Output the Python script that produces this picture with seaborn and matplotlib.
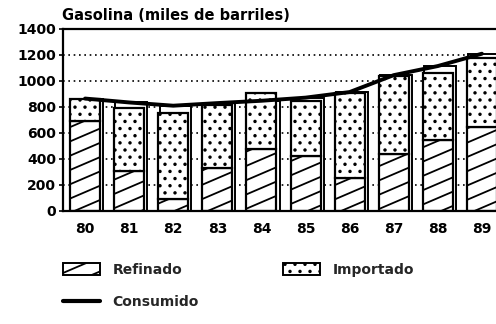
import numpy as np
import matplotlib
matplotlib.use("Agg")
import matplotlib.pyplot as plt
import matplotlib.hatch as mhatch
from matplotlib.path import Path
import matplotlib.patches as mpatches
from matplotlib.lines import Line2D
import seaborn as sns

# Gasoline supply, thousands of barrels
years = ["80", "81", "82", "83", "84", "85", "86", "87", "88", "89"]
refinado = [690, 310, 95, 330, 480, 420, 255, 435, 545, 650]
importado = [170, 485, 660, 485, 425, 425, 650, 600, 515, 530]
consumido = [865, 835, 810, 830, 848, 872, 915, 1045, 1115, 1210]
y_ticks = [0, 200, 400, 600, 800, 1000, 1200, 1400]


# Shallow diagonal hatch used for '/' (slope 3/7, 7 lines per tile)
class SlantHatch(mhatch.HatchPatternBase):
    rise, per_tile = 3, 7

    def __init__(self, hatch, density):
        n = hatch.count('/') + hatch.count('x') + hatch.count('X')
        if n:
            step = 1.0 / (self.per_tile * n)
            k = np.arange(-3 * self.per_tile * n, 3 * self.per_tile * n)
            self.offsets = k * step
        else:
            self.offsets = np.empty(0)
        self.slope = self.rise / self.per_tile
        self.num_vertices = 2 * len(self.offsets)

    def set_vertices_and_codes(self, vertices, codes):
        x0, x1 = -1.0, 2.0
        vertices[0::2, 0] = x0
        vertices[0::2, 1] = self.offsets + self.slope * x0
        vertices[1::2, 0] = x1
        vertices[1::2, 1] = self.offsets + self.slope * x1
        codes[0::2] = Path.MOVETO
        codes[1::2] = Path.LINETO


# Staggered dot stipple used for '.'
class DotHatch(mhatch.HatchPatternBase):
    def __init__(self, hatch, density):
        n = hatch.count('.')
        centers = []
        if n:
            ncol, nrow = 10 * n, 14 * n
            for r in range(-1, nrow + 2):
                shift = 0.5 / ncol if r % 2 else 0.0
                for c in range(-1, ncol + 2):
                    centers.append((c / ncol + shift, r / nrow))
        self.centers = np.array(centers, dtype=float).reshape(-1, 2)
        circ = Path.unit_circle()
        self.shape_vertices = circ.vertices * 0.008
        self.shape_codes = circ.codes
        self.num_vertices = len(self.centers) * len(self.shape_vertices)

    def set_vertices_and_codes(self, vertices, codes):
        nv = len(self.shape_vertices)
        for i, (cx, cy) in enumerate(self.centers):
            vertices[i * nv:(i + 1) * nv] = self.shape_vertices + (cx, cy)
            codes[i * nv:(i + 1) * nv] = self.shape_codes


ht = mhatch._hatch_types
ht[ht.index(mhatch.NorthEastHatch)] = SlantHatch
ht[ht.index(mhatch.SmallFilledCircles)] = DotHatch

sns.set_theme(style="white")
plt.rcParams["font.family"] = ["DejaVu Sans"]
plt.rcParams["font.weight"] = "bold"
plt.rcParams["hatch.linewidth"] = 1.3
plt.rcParams["hatch.color"] = "black"

fig = plt.figure(figsize=(4.96, 3.24), dpi=100)
ax = fig.add_axes([63 / 496, (324 - 211) / 324, 1 - 63 / 496, (211 - 29) / 324])

pos = np.arange(len(years))
bar_w = 0.68

# dotted horizontal grid
for v in y_ticks[1:-1]:
    ax.axhline(v, color="black", lw=1.2, ls=(0, (1, 2.2)), zorder=0.5)

# back panels reaching the consumption level
ax.bar(pos + 0.05, consumido, width=bar_w + 0.04, color="white",
       edgecolor="black", linewidth=1.4, zorder=1)

sns.barplot(x=years, y=refinado, color="white", saturation=1, width=bar_w,
            edgecolor="black", linewidth=1.6, hatch="/", errorbar=None,
            ax=ax, zorder=2)
sns.barplot(x=years, y=importado, bottom=refinado, color="white",
            saturation=1, width=bar_w, edgecolor="black", linewidth=1.6,
            hatch=".", errorbar=None, ax=ax, zorder=2)
sns.lineplot(x=pos, y=consumido, color="black", lw=2.8, ax=ax, zorder=3)

ax.set_xlim(-0.5, 9.32)
ax.set_ylim(0, 1400)
ax.set_yticks(y_ticks)
ax.set_xticks(pos)
ax.set_xticklabels(years)
ax.set_xlabel("")
ax.set_ylabel("")
ax.tick_params(axis="y", direction="out", length=3, width=1.2, pad=2,
               labelsize=10, colors="black", left=True)
ax.tick_params(axis="x", direction="in", length=3, width=1.2, pad=8,
               labelsize=10, colors="black", bottom=True)
for side in ["left", "top", "bottom"]:
    ax.spines[side].set_visible(True)
    ax.spines[side].set_color("black")
    ax.spines[side].set_linewidth(1.6)
ax.spines["right"].set_visible(False)

fig.text(62 / 496, (324 - 20) / 324, "Gasolina (miles de barriles)",
         fontsize=10.5, fontweight="bold", color="black",
         ha="left", va="baseline")

handles = [
    mpatches.Patch(facecolor="white", edgecolor="black", linewidth=1.4,
                   hatch="/", label="Refinado"),
    Line2D([], [], color="black", lw=3, label="Consumido"),
    mpatches.Patch(facecolor="white", edgecolor="black", linewidth=1.4,
                   hatch=".", label="Importado"),
]
fig.legend(handles=handles, loc="upper left",
           bbox_to_anchor=(63 / 496, (324 - 263) / 324), ncol=2,
           frameon=False, fontsize=10, borderpad=0, borderaxespad=0,
           handlelength=2.65, handleheight=0.95, handletextpad=0.9,
           labelspacing=1.3, columnspacing=6.1,
           prop={"weight": "bold", "size": 10})

fig.savefig("out.png", dpi=100)
